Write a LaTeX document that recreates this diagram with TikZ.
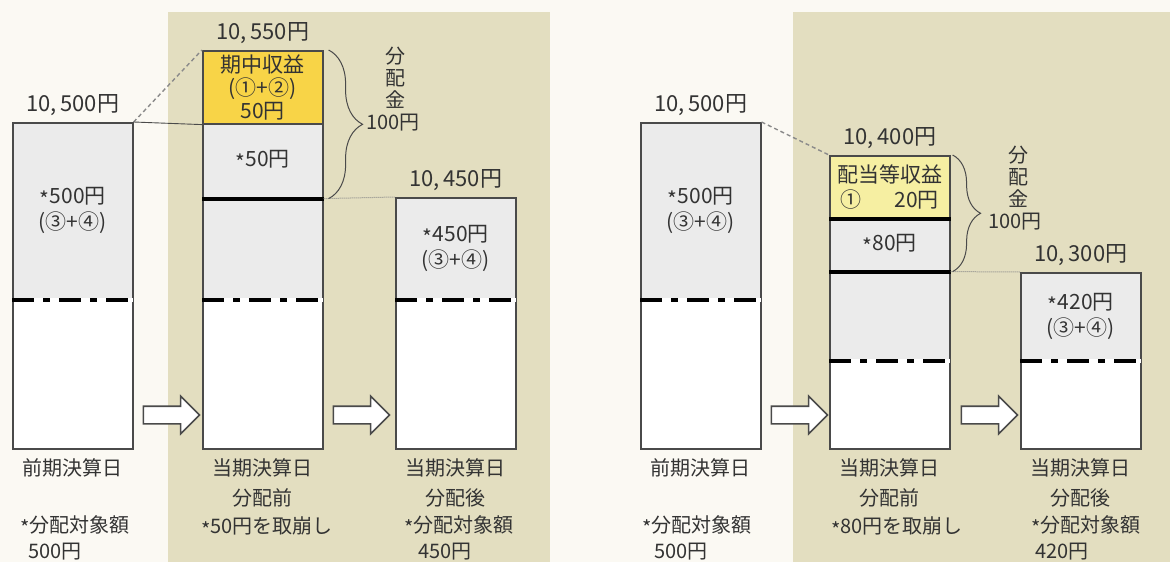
\documentclass[tikz,border=0pt]{standalone}
\usepackage{fontspec}
\setmainfont{Noto Sans CJK JP}
\usetikzlibrary{positioning,shapes.arrows,decorations.pathreplacing}

\definecolor{pagebg}{HTML}{FBF9F3}
\definecolor{panelbg}{HTML}{E3DEC0}
\definecolor{fundgray}{HTML}{EBEBEB}
\definecolor{gainyellow}{HTML}{F8D447}
\definecolor{paleyellow}{HTML}{F6EFA2}
\definecolor{boxline}{HTML}{4A4A4A}
\definecolor{linkgray}{HTML}{8A8A8A}
\definecolor{inktext}{HTML}{333333}

% centred asterisk used in the amounts
\newcommand{\stnote}{\raisebox{-0.35ex}{*}}

\begin{document}
\begin{tikzpicture}[x=1pt, y=-1pt,
  block/.style={draw=boxline, line width=1.6pt, minimum width=120pt, inner sep=0pt,
    anchor=north west, align=center, text=inktext, font=\fontsize{21}{26}\selectfont},
  amount/.style={inner sep=1pt, text=inktext, font=\fontsize{22}{24}\selectfont},
  caption/.style={inner sep=1pt, align=center, text=inktext, font=\fontsize{20}{29.5}\selectfont},
  note/.style={inner sep=0pt, anchor=north west, align=left, text=inktext, font=\fontsize{20}{26}\selectfont},
  share/.style={inner sep=0pt, align=center, text=inktext, font=\fontsize{20}{22}\selectfont},
  heavy/.style={line width=4pt, draw=black},
  gapline/.style={line width=4pt, draw=white, shorten <=1pt, shorten >=1pt},
  divline/.style={line width=4pt, draw=black, dash pattern=on 22pt off 9pt on 7pt off 9pt},
  link/.style={line width=1.4pt, draw=linkgray, dash pattern=on 4pt off 3pt},
  level/.style={line width=0.9pt, draw=boxline},
  dots/.style={line width=1pt, draw=linkgray, densely dotted},
  flow/.style={single arrow, draw=boxline, line width=1.6pt, fill=white, minimum height=56pt,
    inner sep=8pt, single arrow head extend=10pt},
  curly/.style={decorate, line width=1pt, draw=boxline},
]

  % --- Background and panels ---
  \useasboundingbox (0,0) rectangle (1170,562);
  \fill[pagebg] (0,0) rectangle (1170,562);
  \fill[panelbg] (168,12) rectangle (550,562);
  \fill[panelbg] (793,12) rectangle (1170,562);

  % --- Left: fund boxes ---
  \node[block, fill=fundgray, minimum height=176pt] (a1) at (12,122) {\stnote{}500円\\(③+④)};
  \node[block, fill=white, minimum height=150pt] (a2) at (12,298) {};

  \node[block, fill=gainyellow, minimum height=73pt, font=\fontsize{21}{23}\selectfont] (b1)
    at (202,50) {期中収益\\(①+②)\\50円};
  \node[block, fill=fundgray, minimum height=74pt] (b2) at (202,123) {\stnote{}50円};
  \node[block, fill=fundgray, minimum height=101pt] (b3) at (202,197) {};
  \node[block, fill=white, minimum height=150pt] (b4) at (202,298) {};

  \node[block, fill=fundgray, minimum height=101pt] (c1) at (395,197) {\stnote{}450円\\(③+④)};
  \node[block, fill=white, minimum height=150pt] (c2) at (395,298) {};

  % --- Left: division lines ---
  \draw[heavy] (b2.south west) -- (b2.south east);
  \foreach \part in {a1,b3,c1} {
    \draw[gapline] (\part.south west) -- (\part.south east);
    \draw[divline] (\part.south west) -- (\part.south east);
  }

  % --- Left: links between boxes ---
  \draw[link] (a1.north east) -- (b1.north west);
  \draw[level] (a1.north east) -- (b1.south west);
  \draw[dots] (b2.south east) -- (c1.north west);

  % --- Left: amounts ---
  \node[amount, above=5pt of a1.north] (amtA) {10,\,500円};
  \node[amount, above=5pt of b1.north] (amtB) {10,\,550円};
  \node[amount, above=5pt of c1.north] (amtC) {10,\,450円};

  % --- Left: distribution brace ---
  \draw[curly, decoration={brace, amplitude=34pt}]
    ([xshift=5pt]b1.north east) -- ([xshift=5pt]b2.south east);
  \node[share] (shareL) at (395,78) {分\\配\\金};
  \node[share] (shareLamt) at (393,123) {100円};

  % --- Left: arrows ---
  \node[flow] (arrA) at (167,415) {};
  \node[flow] (arrB) at (357,415) {};

  % --- Left: captions ---
  \node[caption, below=8pt of a2.south] (capA) {前期決算日};
  \node[caption, below=8pt of b4.south] (capB) {当期決算日\\分配前};
  \node[caption, below=8pt of c2.south] (capC) {当期決算日\\分配後};
  \node[note] (noteA) at (20,515) {\stnote{}分配対象額\\\hspace{8pt}500円};
  \node[caption] (noteB) at (267,527) {\stnote{}50円を取崩し};
  \node[note] (noteC) at (404,515) {\stnote{}分配対象額\\\hspace{14pt}450円};

  % --- Right: fund boxes ---
  \node[block, fill=fundgray, minimum height=176pt] (d1) at (640,122) {\stnote{}500円\\(③+④)};
  \node[block, fill=white, minimum height=150pt] (d2) at (640,298) {};

  \node[block, fill=paleyellow, minimum height=62pt, font=\fontsize{21}{25}\selectfont] (e1)
    at (829,155) {配当等収益\\\makebox[98pt]{①\hfill 20円}};
  \node[block, fill=fundgray, minimum height=53pt] (e2) at (829,217) {\stnote{}80円};
  \node[block, fill=fundgray, minimum height=89pt] (e3) at (829,270) {};
  \node[block, fill=white, minimum height=89pt] (e4) at (829,359) {};

  \node[block, fill=fundgray, minimum height=87pt] (f1) at (1020,272) {\stnote{}420円\\(③+④)};
  \node[block, fill=white, minimum height=89pt] (f2) at (1020,359) {};

  % --- Right: division lines ---
  \draw[heavy] (e1.south west) -- (e1.south east);
  \draw[heavy] (e2.south west) -- (e2.south east);
  \foreach \part in {d1,e3,f1} {
    \draw[gapline] (\part.south west) -- (\part.south east);
    \draw[divline] (\part.south west) -- (\part.south east);
  }

  % --- Right: links between boxes ---
  \draw[link] (d1.north east) -- (e1.north west);
  \draw[dots] (e2.south east) -- (f1.north west);

  % --- Right: amounts ---
  \node[amount, above=5pt of d1.north] (amtD) {10,\,500円};
  \node[amount, above=5pt of e1.north] (amtE) {10,\,400円};
  \node[amount, above=5pt of f1.north] (amtF) {10,\,300円};

  % --- Right: distribution brace ---
  \draw[curly, decoration={brace, amplitude=28pt}]
    ([xshift=2pt]e1.north east) -- ([xshift=2pt]e2.south east);
  \node[share] (shareR) at (1018,177) {分\\配\\金};
  \node[share] (shareRamt) at (1015,222) {100円};

  % --- Right: arrows ---
  \node[flow] (arrD) at (795,415) {};
  \node[flow] (arrE) at (985,415) {};

  % --- Right: captions ---
  \node[caption, below=8pt of d2.south] (capD) {前期決算日};
  \node[caption, below=8pt of e4.south] (capE) {当期決算日\\分配前};
  \node[caption, below=8pt of f2.south] (capF) {当期決算日\\分配後};
  \node[note] (noteD) at (642,515) {\stnote{}分配対象額\\\hspace{12pt}500円};
  \node[caption] (noteE) at (897,527) {\stnote{}80円を取崩し};
  \node[note] (noteF) at (1031,515) {\stnote{}分配対象額\\\hspace{4pt}420円};

\end{tikzpicture}
\end{document}
